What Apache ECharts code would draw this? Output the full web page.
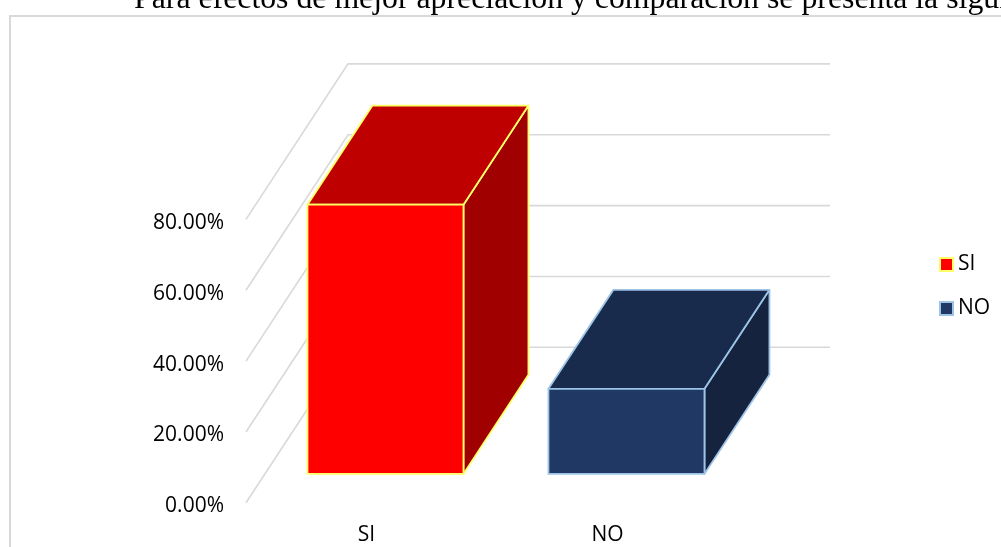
<!DOCTYPE html>
<html><head><meta charset="utf-8">
<style>html,body{margin:0;padding:0;background:#fff;overflow:hidden}#c{width:1001px;height:547px}</style>
<script src="https://cdn.jsdelivr.net/npm/echarts@6/dist/echarts.min.js"></script>
</head><body><div id="c"></div>
<script>
const categories = ['SI', 'NO'];
const siValues = [76, null];
const noValues = [null, 24];
const yTicks = [0, 20, 40, 60, 80];

const DEPTH_X = 102, DEPTH_Y = -155.5;
const BAR_NEAR = 0.186, BAR_FAR = 0.823, BAR_WIDTH = 156;
const LABEL_FONT = '"Open Sans", sans-serif';

const chart = echarts.init(document.getElementById('c'), null, {renderer: 'canvas'});

function barRender(front, top, side, edge) {
  return function (params, api) {
    const hi = api.coord([api.value(0), api.value(1)]);
    const lo = api.coord([api.value(0), 0]);
    const l = hi[0] - BAR_WIDTH / 2, r = hi[0] + BAR_WIDTH / 2;
    const at = (x, y, f) => [x + DEPTH_X * f, y + DEPTH_Y * f];
    const s = {stroke: edge, lineWidth: 1.8, lineJoin: 'round'};
    const poly = (pts, fill) => ({type: 'polygon', shape: {points: pts}, style: Object.assign({fill}, s)});
    return {type: 'group', children: [
      poly([at(r, lo[1], BAR_NEAR), at(r, lo[1], BAR_FAR), at(r, hi[1], BAR_FAR), at(r, hi[1], BAR_NEAR)], side),
      poly([at(l, hi[1], BAR_NEAR), at(l, hi[1], BAR_FAR), at(r, hi[1], BAR_FAR), at(r, hi[1], BAR_NEAR)], top),
      poly([at(l, lo[1], BAR_NEAR), at(r, lo[1], BAR_NEAR), at(r, hi[1], BAR_NEAR), at(l, hi[1], BAR_NEAR)], front)
    ]};
  };
}

function wallRender(params, api) {
  const y = api.coord([0, api.value(0)])[1];
  const cs = params.coordSys;
  return {type: 'polyline', silent: true,
    shape: {points: [[cs.x, y], [cs.x + DEPTH_X, y + DEPTH_Y], [cs.x + cs.width + DEPTH_X, y + DEPTH_Y]]},
    style: {stroke: '#D9D9D9', lineWidth: 1.6, fill: null}};
}

chart.setOption({
  animation: false,
  backgroundColor: '#fff',
  title: {
    text: 'Para efectos de mejor apreciación y comparación se presenta la siguiente gráfica',
    left: 129, top: -21,
    textStyle: {fontFamily: '"Liberation Serif", serif', fontSize: 31.8, fontWeight: 'normal', color: '#000'}
  },
  graphic: [{
    type: 'rect', silent: true, z: -1,
    shape: {x: 10, y: 16, width: 1100, height: 600},
    style: {fill: null, stroke: '#D9D9D9', lineWidth: 2}
  }],
  grid: {left: 246, top: 219.4, width: 482, height: 283.4},
  legend: {
    orient: 'vertical', left: 934, top: 249, itemWidth: 13, itemHeight: 13, itemGap: 23,
    data: [
      {name: 'SI', icon: 'rect', itemStyle: {color: '#FF0000', borderColor: '#FFFF66', borderWidth: 2}},
      {name: 'NO', icon: 'rect', itemStyle: {color: '#1F3864', borderColor: '#9DC3E6', borderWidth: 2}}
    ],
    textStyle: {fontFamily: LABEL_FONT, fontSize: 21, color: '#000'},
    selectedMode: false
  },
  xAxis: {
    type: 'category', data: categories,
    axisLine: {show: false}, axisTick: {show: false}, splitLine: {show: false},
    axisLabel: {fontFamily: LABEL_FONT, fontSize: 21, color: '#000', margin: 22}
  },
  yAxis: {
    type: 'value', min: 0, max: 80, interval: 20,
    axisLine: {show: false}, axisTick: {show: false}, splitLine: {show: false},
    axisLabel: {margin: 22,
      formatter: v => '{t|' + v.toFixed(2) + '%}',
      rich: {t: {fontFamily: LABEL_FONT, fontSize: 21, color: '#000', padding: [7, 0, 0, 0]}}}
  },
  series: [
    {type: 'custom', name: 'walls', z: 1, clip: false, encode: {y: 0},
      data: yTicks.map(v => [v]), renderItem: wallRender},
    {type: 'custom', name: 'SI', z: 2, clip: false, encode: {x: 0, y: 1},
      itemStyle: {color: '#FF0000'},
      data: categories.map((c, i) => [i, siValues[i]]).filter(d => d[1] != null),
      renderItem: barRender('#FF0000', '#BF0000', '#A00000', '#FFFF66')},
    {type: 'custom', name: 'NO', z: 2, clip: false, encode: {x: 0, y: 1},
      itemStyle: {color: '#1F3864'},
      data: categories.map((c, i) => [i, noValues[i]]).filter(d => d[1] != null),
      renderItem: barRender('#1F3864', '#182B4C', '#15233F', '#9DC3E6')}
  ]
});
</script></body></html>
